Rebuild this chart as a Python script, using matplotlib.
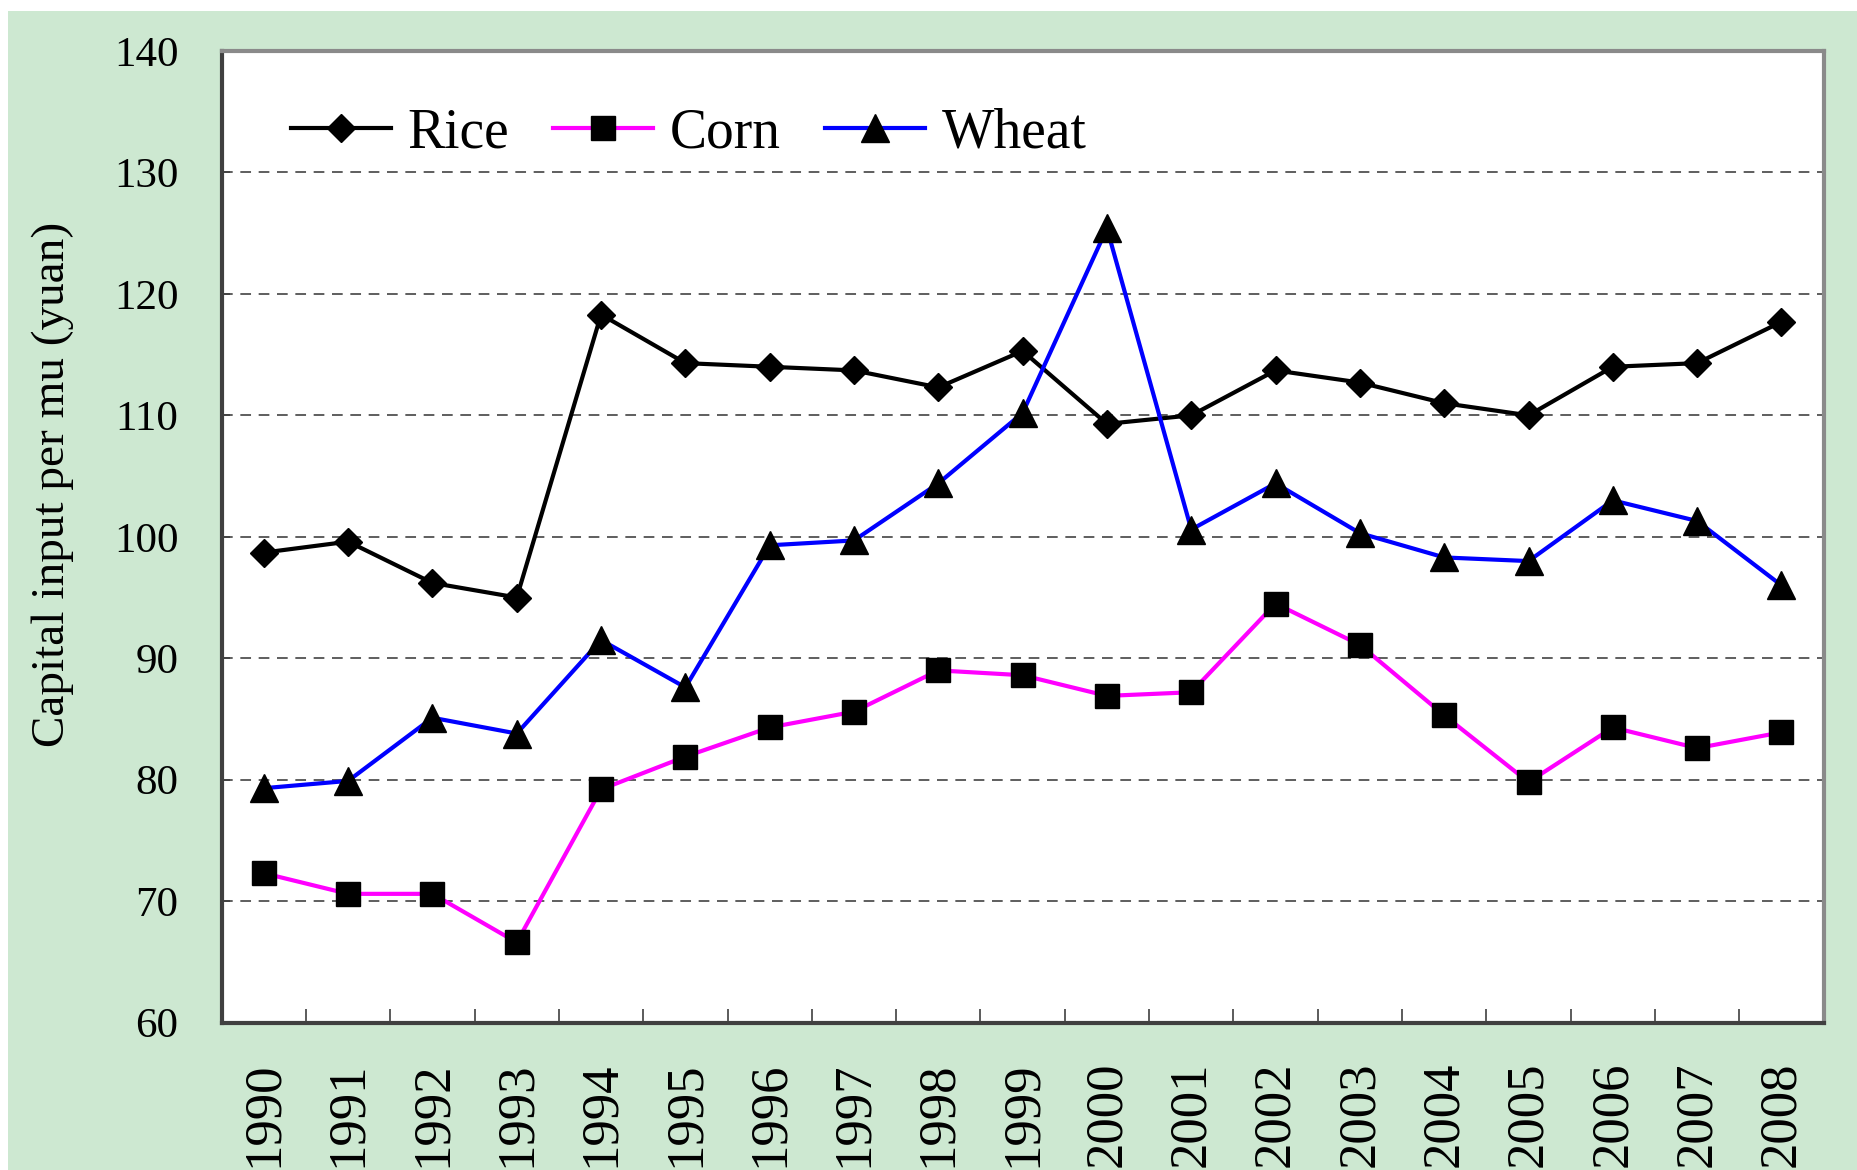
import matplotlib
matplotlib.use("Agg")
import matplotlib.pyplot as plt
from matplotlib.patches import Rectangle

years = [str(y) for y in range(1990, 2009)]
rice = [98.7, 99.6, 96.2, 95.0, 118.3, 114.3, 114.0, 113.7, 112.3, 115.3,
        109.3, 110.0, 113.7, 112.7, 111.0, 110.0, 114.0, 114.3, 117.7]
corn = [72.3, 70.6, 70.6, 66.6, 79.2, 81.9, 84.3, 85.6, 89.0, 88.6,
        86.9, 87.2, 94.5, 91.1, 85.3, 79.8, 84.3, 82.6, 83.9]
wheat = [79.3, 79.9, 85.1, 83.8, 91.5, 87.6, 99.3, 99.7, 104.4, 110.2,
         125.4, 100.6, 104.4, 100.3, 98.3, 98.0, 103.0, 101.3, 96.0]
y_ticks = [60, 70, 80, 90, 100, 110, 120, 130, 140]

plt.rcParams["font.family"] = ["Liberation Serif", "DejaVu Serif"]

fig = plt.figure(figsize=(18.58, 11.70), dpi=100)
fig.patch.set_facecolor("white")
# зелёная подложка
fig.patches.append(Rectangle((0.0045, 0), 1, 0.9905, transform=fig.transFigure,
                             facecolor="#cde8d1", edgecolor="none", zorder=-10))

ax = fig.add_axes([0.1193, 0.126, 0.9815 - 0.1193, 0.9564 - 0.126])
ax.set_facecolor("white")

x = range(len(years))
ax.plot(x, rice, color="black", lw=3, marker="D", ms=14,
        mfc="black", mec="black", label="Rice", zorder=3)
ax.plot(x, corn, color="#ff00ff", lw=3, marker="s", ms=17.5,
        mfc="black", mec="black", label="Corn", zorder=3)
ax.plot(x, wheat, color="#0000ff", lw=3, marker="^", ms=20,
        mfc="black", mec="black", label="Wheat", zorder=3)

ax.set_xlim(-0.5, len(years) - 0.5)
ax.set_ylim(60, 140)
ax.set_yticks(y_ticks)
ax.set_yticklabels([str(v) for v in y_ticks])
ax.set_xticks(list(x))
ax.set_xticklabels(years, rotation=90)
ax.set_xticks([i + 0.5 for i in range(len(years) - 1)], minor=True)

ax.tick_params(axis="x", which="major", length=0, pad=28, labelsize=38)
ax.tick_params(axis="x", which="minor", direction="in", length=10,
               width=1.2, color="#404040")
ax.tick_params(axis="y", which="major", direction="in", length=6,
               width=1.2, color="#404040", pad=31, labelsize=31)

# пунктирная сетка
for v in y_ticks[1:-1]:
    ax.axhline(v, color="#333333", lw=1.1, ls=(0, (7, 5)), zorder=1)

for side in ["top", "right"]:
    ax.spines[side].set_color("#8a8a8a")
    ax.spines[side].set_linewidth(3)
for side in ["left", "bottom"]:
    ax.spines[side].set_color("#404040")
    ax.spines[side].set_linewidth(3)

fig.text(53 / 1858, 0.586, "Capital input per mu (yuan)", rotation=90,
         ha="center", va="center", fontsize=34)

ax.legend(loc="center left", bbox_to_anchor=(0.0257, 0.915), ncol=3,
          frameon=False, fontsize=40, borderpad=0, handlelength=1.8,
          handletextpad=0.3, columnspacing=0.8)

fig.savefig("out.png", dpi=100)
plt.close(fig)
